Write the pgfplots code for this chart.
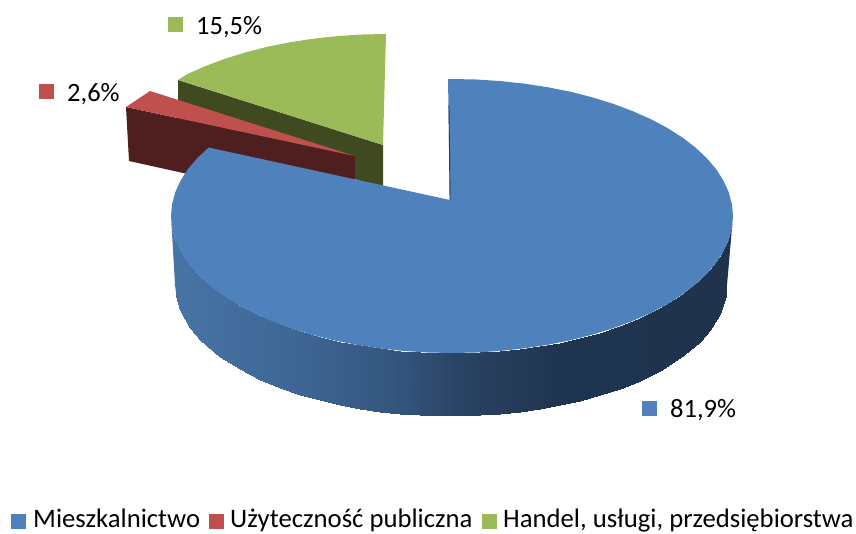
\documentclass[border=0pt]{standalone}
\usepackage{pgfplots}
\pgfplotsset{compat=1.18}
\usepackage{fontspec}
\setmainfont{Carlito}
\definecolor{mieszk}{HTML}{4F81BD}
\definecolor{uzyt}{HTML}{C0504D}
\definecolor{handel}{HTML}{9BBB59}
\definecolor{uzytdark}{HTML}{4E1F1E}
\definecolor{handeldark}{HTML}{3F4A21}
\definecolor{mieszkedge}{HTML}{1F3A5E}
\definecolor{rimleft}{RGB}{72,116,166}
\definecolor{rimright}{RGB}{31,51,77}

\begin{document}
\begin{tikzpicture}
\useasboundingbox (0,0) rectangle (856pt,533pt);
\begin{axis}[
  at={(0,0)}, anchor=south west,
  scale only axis,
  width=856pt, height=533pt,
  xmin=0, xmax=856, ymin=0, ymax=533,
  y dir=reverse,
  hide axis,
  clip=false,
  colormap={side}{
    rgb255(0pt)=(72,116,166);
    rgb255(130pt)=(62,101,148);
    rgb255(230pt)=(51,85,125);
    rgb255(290pt)=(42,67,100);
    rgb255(390pt)=(31,52,78);
    rgb255(556pt)=(31,51,77)
  },
  colormap name=side,
  point meta min=170, point meta max=726,
]
% Handel, uslugi: side then top
\addplot[fill=handeldark, draw=none] coordinates {
  (178,80) (383,145) (383,187) (178,130)
};
\addplot[fill=handel, draw=none] coordinates {
  (386,34) (361.5,34.5) (337.2,36.1) (313.3,38.7) (289.9,42.3) (267.2,46.8)
  (245.5,52.4) (224.8,58.8) (205.4,66.1) (187.3,74.1) (178,79.9) (383,145)
};
% Uzytecznosc publiczna: side then top
\addplot[fill=uzytdark, draw=none] coordinates {
  (126,107) (355,156) (355,211) (129,161)
};
\addplot[fill=uzyt, draw=none] coordinates {
  (150,91) (126,107) (355,156)
};
% Mieszkalnictwo: rim ends, rim in vertical slices, then the top
\addplot[fill=rimleft, draw=none] coordinates {
  (171,216) (172.1,227.9) (175.3,239.8) (176.5,242.5) (176.5,296.1) (175,285)
};
\addplot[fill=rimright, draw=none] coordinates {
  (733,216) (731.9,227.9) (728.7,239.8) (725.5,247) (725.5,296.1) (727,285)
};
\addplot[surf, shader=interp, point meta=x, mesh/cols=2, mesh/rows=32] coordinates {
  (176,241.7) (176,296.1)
  (180,250.4) (180,309.8)
  (190,265.5) (190,327.6)
  (200,276.6) (200,339.5)
  (220,293.3) (220,356.7)
  (240,305.9) (240,369.4)
  (260,316) (260,379.6)
  (280,324.3) (280,387.8)
  (300,331.2) (300,394.7)
  (320,336.9) (320,400.3)
  (340,341.6) (340,404.9)
  (360,345.4) (360,408.7)
  (380,348.4) (380,411.6)
  (400,350.6) (400,413.7)
  (420,352.1) (420,415.2)
  (440,352.9) (440,415.9)
  (460,352.9) (460,415.9)
  (480,352.3) (480,415.3)
  (500,351) (500,413.9)
  (520,348.9) (520,411.8)
  (540,346.1) (540,409)
  (560,342.5) (560,405.4)
  (580,338) (580,400.8)
  (600,332.5) (600,395.3)
  (620,325.8) (620,388.6)
  (640,317.8) (640,380.5)
  (660,308.1) (660,370.6)
  (680,296.1) (680,358.1)
  (700,280.4) (700,341.5)
  (710,270.3) (710,330.3)
  (720,257.2) (720,314.3)
  (726,246.4) (726,296.1)
};
\addplot[fill=mieszk, draw=none] coordinates {
  (450,200) (448,79) (452,79) (476.5,79.5) (500.8,81.1) (524.7,83.7) (548.1,87.3)
  (570.8,91.8) (592.5,97.4) (613.2,103.8) (632.6,111.1) (650.7,119.1) (667.3,127.9)
  (682.2,137.4) (695.4,147.5) (706.7,158.1) (716.1,169.1) (723.4,180.5) (728.7,192.2)
  (731.9,204.1) (733,216) (731.9,227.9) (728.7,239.8) (723.4,251.5) (716.1,262.9)
  (706.7,273.9) (695.4,284.5) (682.2,294.6) (667.3,304.1) (650.7,312.9) (632.6,321)
  (613.2,328.2) (592.5,334.6) (570.8,340.2) (548.1,344.7) (524.7,348.3) (500.8,350.9)
  (476.5,352.5) (452,353) (427.5,352.5) (403.2,350.9) (379.3,348.3) (355.9,344.7)
  (333.2,340.2) (311.5,334.6) (290.8,328.2) (271.4,321) (253.3,312.9) (236.7,304.1)
  (221.8,294.6) (208.6,284.5) (197.3,273.9) (187.9,262.9) (180.6,251.5) (175.3,239.8)
  (172.1,227.9) (171,216) (172.1,204.1) (175.3,192.2) (180.6,180.5) (187.9,169.1)
  (197.3,158.1) (208.6,147.5)
};
% thin inner face by the tip
\addplot[draw=mieszkedge, line width=0.9pt] coordinates {(449,105) (450,200)};
% label keys
\addplot[fill=handel, draw=none] coordinates {(168,17) (183,17) (183,32) (168,32)};
\addplot[fill=uzyt, draw=none] coordinates {(39,84) (54,84) (54,99) (39,99)};
\addplot[fill=mieszk, draw=none] coordinates {(642,401) (657,401) (657,416) (642,416)};
% legend keys
\addplot[fill=mieszk, draw=none] coordinates {(11,514) (26,514) (26,529) (11,529)};
\addplot[fill=uzyt, draw=none] coordinates {(209,514) (224,514) (224,529) (209,529)};
\addplot[fill=handel, draw=none] coordinates {(482,514) (497,514) (497,529) (482,529)};
% texts
\tikzset{lab/.style={anchor=base west, inner sep=0pt, text=black, font=\fontsize{26.5pt}{30pt}\selectfont},
  leg/.style={anchor=base west, inner sep=0pt, text=black, font=\fontsize{26.7pt}{30pt}\selectfont}}
\node[lab] at (axis cs:196,34) {15,5\%};
\node[lab] at (axis cs:67,101) {2,6\%};
\node[lab] at (axis cs:670,417) {81,9\%};
\node[leg] at (axis cs:33,527.6) {Mieszkalnictwo};
\node[leg] at (axis cs:230,527.6) {Użyteczność publiczna};
\node[leg] at (axis cs:503,527.6) {Handel, usługi, przedsiębiorstwa};
\end{axis}
\end{tikzpicture}
\end{document}
